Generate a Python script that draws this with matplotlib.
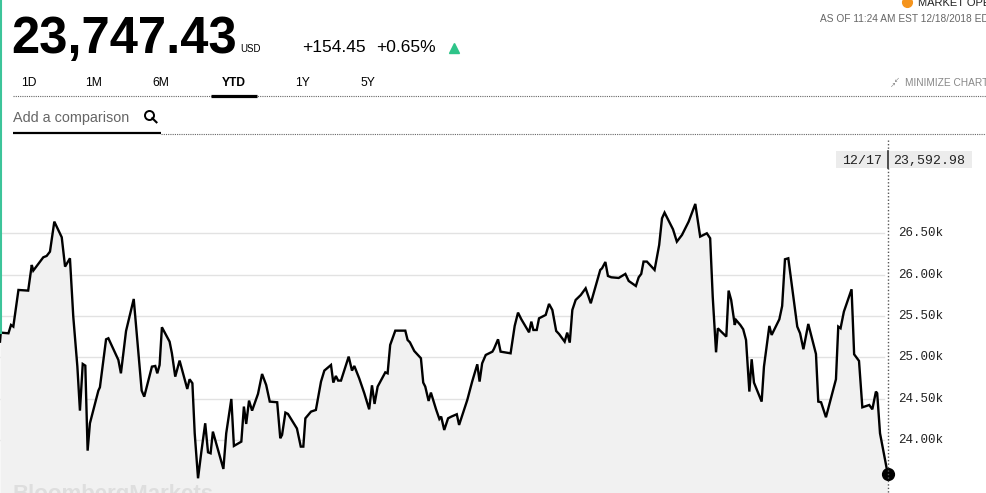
import matplotlib
matplotlib.use('Agg')
import matplotlib.pyplot as plt
from matplotlib.patches import Rectangle
from matplotlib.lines import Line2D

W, H = 987, 493

# ---- data (day of year 2018, Dow Jones close) ----
day = [4.5, 4.8, 7.8, 8.8, 9.7, 11.7, 15.5, 16.9, 17.5, 21.4, 22.7, 24.0, 25.7, 28.6, 29.9,
       31.8, 33.1, 34.7, 35.7, 36.8, 37.8, 38.7, 39.6, 42.9, 43.5, 45.9, 46.8, 50.7, 51.7,
       53.7, 56.7, 59.8, 60.8,
       63.8, 65.1, 65.9, 66.8, 67.7, 70.7, 71.6, 72.9, 74.6, 76.3, 77.6, 78.5, 79.6, 80.5,
       81.8, 83.1, 84.6, 85.7, 86.7, 87.6, 89.6, 91.7, 92.8, 94.8, 95.8, 98.7, 99.7, 100.6,
       101.7, 102.9, 105.2, 106.8, 108.4, 109.8, 112.7, 113.9, 114.6, 115.9, 116.9,
       120.4, 121.9, 122.9, 123.7, 125.9, 127.8, 129.8, 131.1, 133.7, 134.6, 135.6, 136.5,
       137.6, 140.6, 141.9, 142.8, 144.7, 146.7, 148.6, 149.7, 150.7, 151.9, 154.9, 155.8,
       156.8, 158.8, 162.7, 163.6, 164.5, 166.2, 168.8, 169.7, 170.5, 171.8, 172.7, 174.7,
       176.0, 176.7, 177.9,
       179.4, 180.7, 182.8, 183.7, 186.9, 188.8, 190.8, 191.7, 192.7, 194.1, 196.7, 197.3,
       198.9, 199.9, 203.8, 205.4, 206.7, 208.0, 211.0, 211.9, 212.7, 214.0, 214.9, 217.5,
       218.8, 220.1, 221.6, 222.7, 224.9, 225.9, 226.9, 227.9, 229.2, 231.2, 233.1, 235.1,
       238.8, 239.5, 240.8, 241.8, 243.1, 246.0, 248.6, 249.9, 252.7, 253.8, 254.8, 255.7,
       257.0, 260.0, 261.8, 262.9, 263.9, 267.2, 268.7, 270.7, 273.3, 275.9, 277.8, 280.4,
       281.7, 282.7, 284.0, 284.7, 288.0, 288.9, 289.9, 291.3, 291.8, 293.5,
       294.6, 295.7, 297.0, 297.9, 298.8, 301.8, 302.7, 304.8, 305.7, 308.7, 309.8, 310.9,
       312.2, 315.7, 316.8, 318.1, 320.0, 323.0, 323.9, 325.0, 326.9, 330.8, 331.7, 332.6,
       333.9, 336.9, 337.9, 339.8, 341.1, 343.8, 345.0, 346.4, 346.9, 348.0, 351.0]
close = [25190, 25299, 25291, 25392, 25372, 25815, 25807, 26117, 26049, 26210, 26226, 26278,
         26641, 26452, 26097, 26198, 25493, 24888, 24356, 24920, 24900, 23872, 24203, 24598,
         24638, 25218, 25231, 24969, 24807, 25319, 25706, 24598, 24525,
         24888, 24896, 24807, 24908, 25364, 25190, 25049, 24767, 24961, 24767, 24618, 24735,
         24687, 24082, 23538, 23860, 24203, 23852, 23840, 24102, 23880, 23651, 24082, 24497,
         23929, 23981, 24405, 24195, 24477, 24356, 24558, 24799, 24666, 24465, 24457, 24022,
         24062, 24332, 24316,
         24140, 23921, 23921, 24263, 24344, 24364, 24707, 24840, 24908, 24695, 24775, 24719,
         24719, 25009, 24840, 24896, 24747, 24566, 24372, 24662, 24437, 24646, 24819, 24807,
         25150, 25323, 25323, 25210, 25182, 25077, 24989, 24695, 24646, 24473, 24574, 24372,
         24255, 24284, 24122,
         24263, 24284, 24312, 24183, 24485, 24707, 24916, 24707, 24928, 25029, 25069, 25102,
         25218, 25069, 25049, 25380, 25541, 25460, 25303, 25432, 25331, 25331, 25472, 25513,
         25646, 25573, 25319, 25283, 25190, 25299, 25178, 25573, 25694, 25754, 25835, 25654,
         26057, 26077, 26153, 25984, 25968, 25960, 26009, 25924, 25863, 25968, 26009, 26158,
         26158, 26057, 26359, 26681, 26750, 26548, 26399, 26480, 26641, 26855, 26460, 26500,
         26440, 25734, 25061, 25351, 25251, 25807, 25694, 25392, 25452, 25390,
         25339, 25210, 24586, 24977, 24695, 24465, 24888, 25380, 25271, 25460, 25621, 26186,
         26198, 25372, 25291, 25098, 25404, 25041, 24465, 24457, 24276, 24735, 25372, 25352,
         25553, 25823, 25037, 24957, 24396, 24424, 24372, 24586, 24566, 24082, 23593]

ytick_values = [24000, 24500, 25000, 25500, 26000, 26500]
ytick_labels = ['24.00k', '24.50k', '25.00k', '25.50k', '26.00k', '26.50k']
tabs = ['1D', '1M', '6M', 'YTD', '1Y', '5Y']
tab_x = [29.3, 93.8, 160.8, 233.5, 303.0, 367.5]
last_price = '23,747.43'
change_abs = '+154.45'
change_pct = '+0.65%'
tooltip_date = '12/17'
tooltip_value = '23,592.98'

plt.rcParams['font.family'] = ['Liberation Sans', 'DejaVu Sans']

fig = plt.figure(figsize=(W / 100, H / 100), dpi=100)
fig.patch.set_facecolor('white')


def fx(x):
    return x / W


def fy(y):
    return 1 - y / H


# ---- chart axes ----
ax_left, ax_right, ax_top = 0.0, 887.7, 140.0
ax = fig.add_axes([fx(ax_left), 0, fx(ax_right - ax_left), (H - ax_top) / H])
ax.set_xlim(4.5, 351.0)
ymin, ymax = 23360, 27628
ax.set_ylim(ymin, ymax)
ax.axis('off')

for v, lab in zip(ytick_values, ytick_labels):
    ax.axhline(v, xmin=0, xmax=884 / 887.7, color='#e2e2e2', lw=1.0, zorder=0)
    ax.text(1.0116, v, lab, transform=ax.get_yaxis_transform(),
            ha='left', va='center', fontsize=9, family='Liberation Mono', color='#222222',
            clip_on=False)

ax.fill_between(day, close, ymin, color='#f1f1f1', lw=0, zorder=1)
ax.plot(day, close, color='black', lw=1.7, zorder=3, solid_joinstyle='miter')
ax.plot(day[-1], close[-1], 'o', ms=8.5, color='black', clip_on=False, zorder=5)

# watermark
fig.text(fx(13), fy(500), 'BloombergMarkets', fontsize=16, fontweight='bold', color='#dedede',
         ha='left', va='baseline', zorder=2)

# dotted vertical cursor line
fig.add_artist(Line2D([fx(887.7), fx(887.7)], [fy(140), fy(493)], color='#555555', lw=1.0,
                      linestyle=(0, (1, 1.5))))

# tooltip
fig.add_artist(Rectangle((fx(836), fy(168.3)), fx(971.7 - 836), (168.3 - 151) / H,
                         facecolor='#ececec', edgecolor='none', zorder=3))
fig.add_artist(Line2D([fx(887.7), fx(887.7)], [fy(151), fy(168.3)], color='#333333', lw=1.2,
                      zorder=4))
fig.text(fx(842), fy(163.5), tooltip_date, fontsize=9.5, family='Liberation Mono',
         color='#222222', ha='left', va='baseline', zorder=5)
fig.text(fx(893), fy(163.5), tooltip_value, fontsize=9.5, family='Liberation Mono',
         color='#222222', ha='left', va='baseline', zorder=5)

# ---- header ----
# green left accent
fig.add_artist(Line2D([fx(0.8), fx(0.8)], [fy(0), fy(333)], color='#3cc49a', lw=1.5))

fig.text(fx(11), fy(53.3), last_price, fontsize=36.5, fontweight='bold', color='black',
         ha='left', va='baseline')
fig.text(fx(240.5), fy(51.7), 'USD', fontsize=7, color='black', ha='left', va='baseline')
fig.text(fx(302), fy(51.7), change_abs, fontsize=12.5, color='black', ha='left', va='baseline')
fig.text(fx(376.5), fy(51.7), change_pct, fontsize=12.5, color='black', ha='left', va='baseline')
fig.add_artist(Line2D([fx(454)], [fy(48)], marker='^', ms=7, color='#2ec489', lw=0))

# market open / timestamp
fig.add_artist(Line2D([fx(907.5)], [fy(2)], marker='o', ms=7, color='#f5941d', lw=0))
fig.text(fx(918), fy(5.5), 'MARKET OPEN', fontsize=8, color='#222222', ha='left', va='baseline')
fig.text(fx(820), fy(21.7), 'AS OF 11:24 AM EST 12/18/2018 EDT', fontsize=7.3, color='#666666',
         ha='left', va='baseline')

# tabs
for t, x in zip(tabs, tab_x):
    fig.text(fx(x), fy(86), t, fontsize=8.7, color='black', ha='center', va='baseline',
             fontweight='bold' if t == 'YTD' else 'normal')
fig.add_artist(Line2D([fx(13), fx(W)], [fy(95.5), fy(95.5)], color='#666666', lw=0.8,
                      linestyle=(0, (1, 1))))
fig.add_artist(Line2D([fx(210.7), fx(256.7)], [fy(95.5), fy(95.5)], color='black', lw=2.3,
                      solid_capstyle='butt'))

# minimize chart
fig.text(fx(890), fy(87), '↗', fontsize=5, color='#888888', ha='left', va='baseline')
fig.text(fx(894), fy(82), '↙', fontsize=5, color='#888888', ha='left', va='baseline')
fig.text(fx(905), fy(85.7), 'MINIMIZE CHART', fontsize=7.3, color='#888888', ha='left',
         va='baseline')

# comparison search
fig.text(fx(13), fy(121.7), 'Add a comparison', fontsize=10.4, color='#666666', ha='left',
         va='baseline')
fig.add_artist(Line2D([fx(149.0)], [fy(114.8)], marker='o', ms=6.5, mfc='none', mec='black',
                      mew=1.4, lw=0))
fig.add_artist(Line2D([fx(152.3), fx(156.5)], [fy(118.2), fy(122.3)], color='black', lw=1.5))
fig.add_artist(Line2D([fx(13), fx(161)], [fy(133.3), fy(133.3)], color='black', lw=1.6,
                      solid_capstyle='butt'))
fig.add_artist(Line2D([fx(161), fx(W)], [fy(134.3), fy(134.3)], color='#666666', lw=0.8,
                      linestyle=(0, (1, 1))))

fig.savefig('out.png', dpi=100)
